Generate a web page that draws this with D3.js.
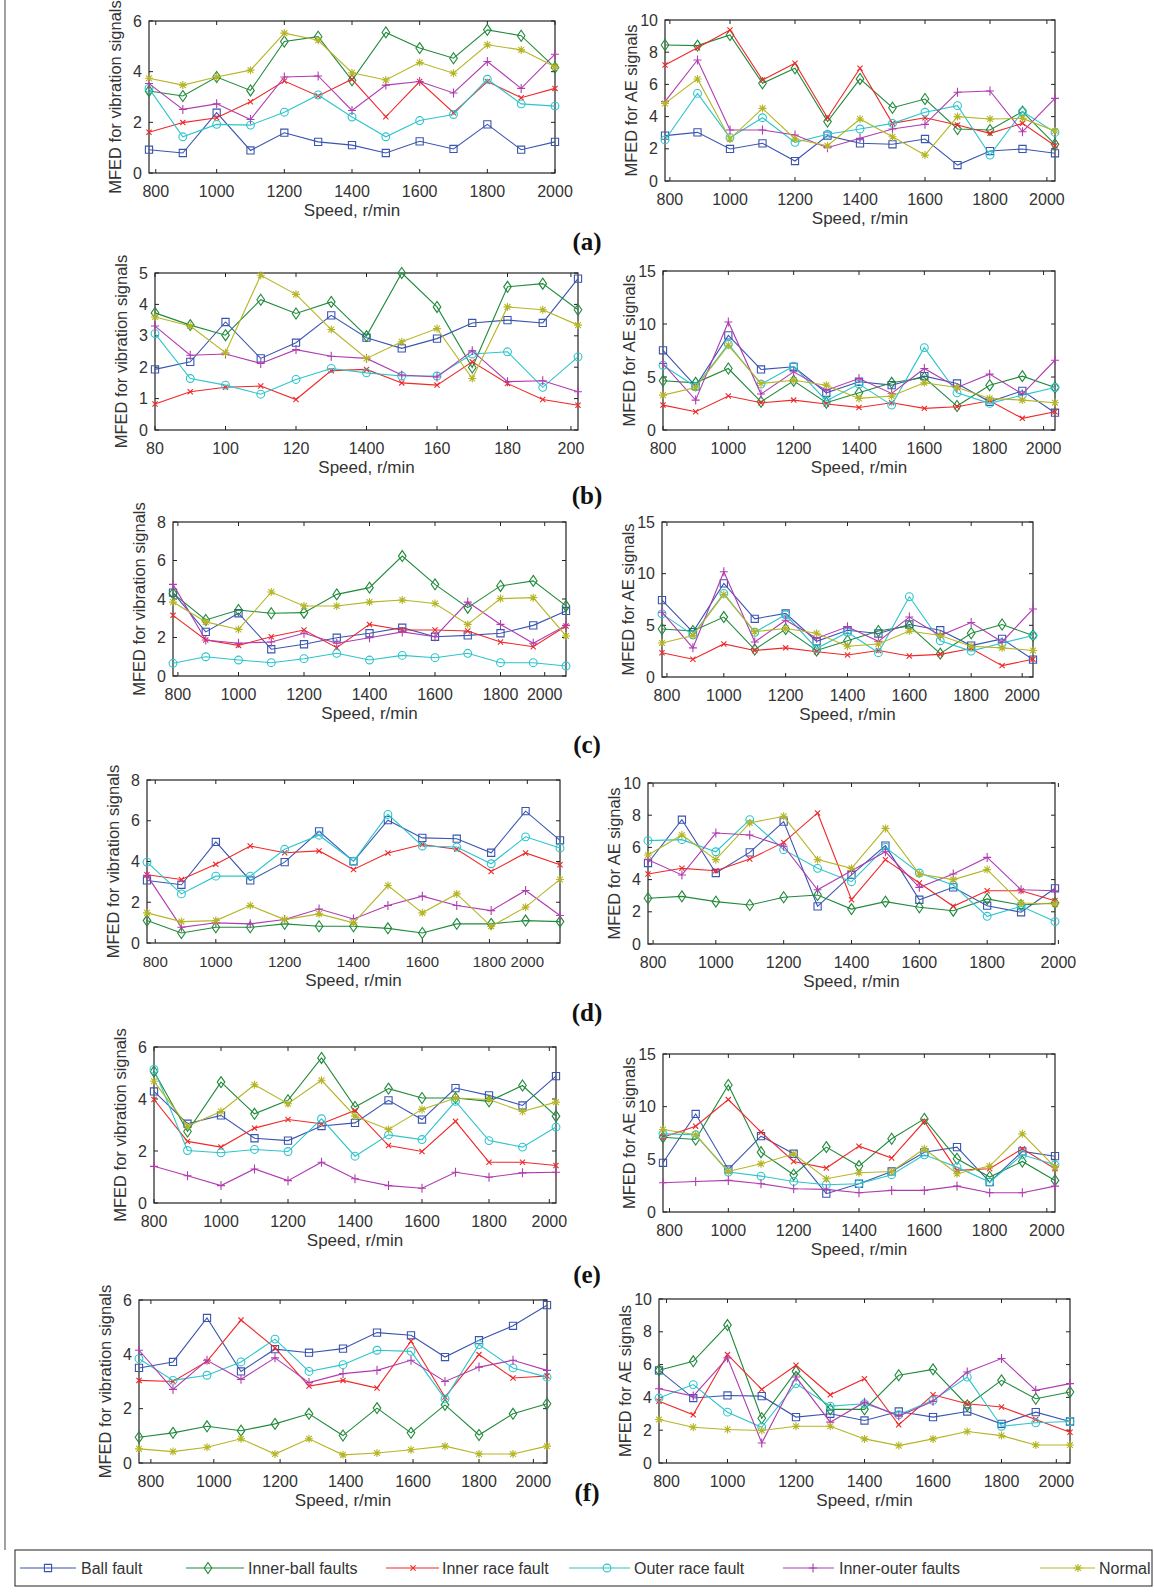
<!DOCTYPE html>
<html>
<head>
<meta charset="utf-8">
<script src="https://cdn.jsdelivr.net/npm/d3@7"></script>
<style>
body { margin: 0; background: #fff; }
text { font-family: "Liberation Sans", Arial, sans-serif; fill: #333; }
</style>
</head>
<body>
<svg id="fig" width="1154" height="1594"></svg>
<script>
// speeds (r/min) used on the x axis
const speeds = [800, 900, 1000, 1100, 1200, 1300, 1400, 1500, 1600, 1700, 1800, 1900, 2000]
const speedsB = [80, 90, 100, 110, 120, 130, 140, 150, 160, 170, 180, 190, 200]

const seriesNames = ["Ball fault", "Inner-ball faults", "Inner race fault", "Outer race fault", "Inner-outer faults", "Normal"]

// each panel: rows = ball, inner-ball, inner race, outer race, inner-outer, normal
const aVib = [
  [0.92, 0.79, 2.38, 0.89, 1.59, 1.23, 1.10, 0.79, 1.25, 0.95, 1.92, 0.92, 1.23],
  [3.24, 3.04, 3.79, 3.26, 5.19, 5.38, 3.66, 5.55, 4.93, 4.53, 5.65, 5.42, 4.16],
  [1.61, 1.99, 2.18, 2.81, 3.63, 3.04, 3.70, 2.22, 3.61, 2.38, 3.61, 2.97, 3.34],
  [3.34, 1.43, 1.92, 1.89, 2.40, 3.08, 2.21, 1.43, 2.07, 2.31, 3.70, 2.73, 2.64],
  [3.53, 2.51, 2.73, 2.11, 3.79, 3.83, 2.47, 3.47, 3.61, 3.16, 4.40, 3.34, 4.69],
  [3.74, 3.47, 3.79, 4.06, 5.52, 5.24, 3.96, 3.67, 4.36, 3.94, 5.06, 4.86, 4.19]
]
const aAE = [
  [2.82, 3.02, 1.99, 2.34, 1.24, 2.82, 2.34, 2.28, 2.61, 0.99, 1.86, 1.99, 1.72],
  [8.45, 8.41, 9.07, 6.07, 7.00, 3.69, 6.34, 4.55, 5.09, 3.23, 3.17, 4.31, 2.28],
  [7.20, 8.28, 9.38, 6.27, 7.31, 3.93, 7.00, 3.58, 3.93, 3.48, 2.96, 3.58, 2.19],
  [2.55, 5.44, 2.69, 3.93, 2.40, 2.90, 3.23, 3.58, 4.27, 4.68, 1.61, 4.31, 3.02],
  [4.93, 7.52, 3.17, 3.17, 2.86, 2.07, 2.65, 3.23, 3.52, 5.51, 5.59, 3.06, 5.13],
  [4.82, 6.34, 2.61, 4.51, 2.61, 2.19, 3.85, 2.75, 1.61, 4.00, 3.85, 3.89, 3.11]
]
const bVib = [
  [1.93, 2.17, 3.44, 2.28, 2.78, 3.65, 2.94, 2.60, 2.91, 3.41, 3.50, 3.41, 4.82],
  [3.73, 3.34, 3.02, 4.15, 3.71, 4.08, 2.99, 5.00, 3.92, 1.99, 4.56, 4.66, 3.83],
  [0.83, 1.22, 1.36, 1.40, 0.97, 1.89, 1.93, 1.50, 1.43, 2.17, 1.48, 0.97, 0.79],
  [3.07, 1.64, 1.43, 1.14, 1.61, 1.96, 1.82, 1.72, 1.72, 2.42, 2.49, 1.36, 2.33],
  [3.31, 2.38, 2.42, 2.12, 2.56, 2.35, 2.28, 1.75, 1.69, 2.52, 1.54, 1.57, 1.22],
  [3.60, 3.31, 2.46, 4.93, 4.32, 3.20, 2.28, 2.81, 3.23, 1.64, 3.92, 3.83, 3.34]
]
const bAE = [
  [7.52, 4.14, 8.93, 5.71, 5.96, 3.51, 4.55, 4.23, 5.08, 4.39, 2.66, 3.70, 1.63],
  [4.64, 4.45, 5.80, 2.66, 4.64, 2.57, 3.51, 4.45, 4.95, 2.26, 4.23, 5.08, 4.01],
  [2.35, 1.72, 3.20, 2.57, 2.82, 2.45, 2.13, 2.57, 2.04, 2.19, 2.76, 1.10, 1.72],
  [6.11, 4.08, 8.09, 4.33, 6.02, 2.76, 4.33, 2.35, 7.77, 3.51, 2.51, 3.29, 4.01],
  [6.27, 2.82, 10.19, 3.39, 5.49, 3.76, 4.86, 3.45, 5.80, 4.01, 5.27, 3.39, 6.58],
  [3.29, 4.01, 7.99, 4.39, 4.70, 4.23, 2.98, 3.20, 4.45, 4.01, 2.98, 2.82, 2.57]
]
const cVib = [
  [4.33, 2.29, 3.26, 1.39, 1.65, 1.99, 2.22, 2.51, 2.04, 2.11, 2.22, 2.63, 3.38],
  [4.29, 2.91, 3.43, 3.26, 3.29, 4.24, 4.59, 6.23, 4.76, 3.55, 4.68, 4.94, 3.64],
  [3.15, 1.87, 1.59, 2.04, 2.39, 1.47, 2.68, 2.39, 2.39, 2.34, 1.77, 1.52, 2.60],
  [0.66, 1.00, 0.83, 0.69, 0.90, 1.18, 0.83, 1.07, 0.95, 1.18, 0.69, 0.69, 0.52],
  [4.76, 1.87, 1.70, 1.77, 2.22, 1.70, 1.99, 2.29, 2.04, 3.84, 2.68, 1.70, 2.63],
  [3.84, 2.81, 2.42, 4.36, 3.64, 3.64, 3.84, 3.95, 3.77, 2.68, 4.02, 4.07, 2.08]
]
const cAE = [
  [7.44, 4.34, 9.06, 5.63, 6.15, 3.46, 4.53, 4.21, 5.08, 4.53, 3.04, 3.69, 1.68],
  [4.64, 4.45, 5.80, 2.66, 4.64, 2.57, 3.51, 4.45, 4.95, 2.26, 4.23, 5.08, 4.01],
  [2.35, 1.72, 3.20, 2.57, 2.82, 2.45, 2.13, 2.57, 2.04, 2.19, 2.76, 1.10, 1.72],
  [6.11, 4.08, 8.09, 4.33, 6.02, 2.76, 4.33, 2.35, 7.77, 3.51, 2.51, 3.29, 4.01],
  [6.27, 2.82, 10.19, 3.39, 5.49, 3.76, 4.86, 3.45, 5.80, 4.01, 5.27, 3.39, 6.58],
  [3.29, 4.01, 7.99, 4.39, 4.70, 4.23, 2.98, 3.20, 4.45, 4.01, 2.98, 2.82, 2.57]
]
const dVib = [
  [3.07, 2.86, 4.96, 3.07, 3.97, 5.48, 4.01, 6.03, 5.16, 5.12, 4.43, 6.47, 5.04],
  [1.10, 0.49, 0.77, 0.77, 0.94, 0.82, 0.82, 0.72, 0.49, 0.94, 0.94, 1.10, 1.05],
  [3.35, 3.12, 3.86, 4.76, 4.43, 4.52, 3.61, 4.42, 4.83, 4.60, 3.51, 4.42, 3.84],
  [3.97, 2.41, 3.28, 3.28, 4.60, 5.29, 4.01, 6.31, 4.76, 4.71, 3.89, 5.21, 4.66],
  [3.32, 0.77, 0.99, 0.94, 1.15, 1.67, 1.18, 1.84, 2.30, 1.84, 1.59, 2.58, 1.35],
  [1.48, 1.05, 1.10, 1.84, 1.15, 1.43, 0.99, 2.82, 1.48, 2.41, 0.82, 1.76, 3.12]
]
const dAE = [
  [5.03, 7.72, 4.41, 5.69, 7.60, 2.34, 4.29, 6.11, 2.75, 3.52, 2.38, 1.97, 3.46],
  [2.84, 2.96, 2.63, 2.42, 2.90, 3.04, 2.17, 2.63, 2.28, 2.07, 2.80, 2.42, 2.55],
  [4.35, 4.70, 4.55, 5.28, 6.31, 8.14, 2.75, 5.24, 3.79, 2.34, 3.31, 3.31, 2.69],
  [6.42, 6.48, 5.73, 7.72, 5.86, 4.70, 3.87, 6.00, 4.41, 3.66, 1.72, 2.34, 1.39],
  [5.24, 4.29, 6.89, 6.77, 6.07, 3.37, 4.55, 5.73, 3.52, 4.35, 5.38, 3.37, 3.31],
  [5.53, 6.77, 5.24, 7.52, 7.93, 5.24, 4.70, 7.18, 4.35, 4.00, 4.62, 2.55, 2.48]
]
const eVib = [
  [4.29, 3.05, 3.37, 2.49, 2.40, 2.96, 3.08, 3.95, 3.21, 4.42, 4.14, 3.75, 4.88],
  [5.06, 2.75, 4.65, 3.43, 3.95, 5.58, 3.69, 4.40, 4.04, 4.04, 3.91, 4.52, 3.34],
  [3.98, 2.37, 2.15, 2.88, 3.21, 3.05, 3.56, 2.21, 1.98, 3.14, 1.57, 1.57, 1.44],
  [5.14, 2.02, 1.93, 2.06, 1.98, 3.24, 1.80, 2.62, 2.44, 3.91, 2.40, 2.15, 2.92],
  [1.41, 1.05, 0.67, 1.31, 0.86, 1.57, 0.93, 0.67, 0.57, 1.18, 0.99, 1.16, 1.18],
  [4.68, 2.96, 3.52, 4.55, 3.82, 4.72, 3.34, 2.83, 3.60, 4.04, 3.98, 3.52, 3.88]
]
const eAE = [
  [4.67, 9.31, 4.04, 7.20, 5.53, 1.74, 2.68, 3.85, 5.68, 6.16, 2.84, 5.75, 5.30],
  [7.10, 6.88, 12.06, 5.68, 3.54, 6.16, 4.36, 6.95, 8.84, 5.05, 3.32, 4.80, 3.00],
  [7.10, 8.15, 10.67, 7.58, 4.80, 4.17, 6.25, 5.12, 8.59, 3.95, 4.10, 6.00, 4.10],
  [7.42, 7.33, 3.79, 3.41, 2.90, 2.59, 2.68, 3.54, 5.43, 4.26, 2.84, 5.43, 4.48],
  [2.78, 2.90, 3.00, 2.68, 2.21, 2.15, 1.83, 2.05, 2.05, 2.46, 1.83, 1.83, 2.46],
  [7.83, 7.33, 3.85, 4.58, 5.53, 3.16, 3.73, 3.85, 6.00, 3.63, 4.36, 7.42, 4.26]
]
const fVib = [
  [3.50, 3.72, 5.34, 3.37, 4.19, 4.06, 4.21, 4.80, 4.70, 3.90, 4.52, 5.05, 5.81],
  [0.95, 1.11, 1.35, 1.19, 1.44, 1.81, 1.01, 2.02, 1.11, 2.14, 1.03, 1.81, 2.18],
  [3.04, 3.00, 3.74, 5.26, 4.24, 2.83, 3.04, 2.76, 4.48, 2.43, 3.99, 3.13, 3.20],
  [3.84, 3.04, 3.23, 3.72, 4.56, 3.37, 3.62, 4.15, 4.11, 2.36, 4.36, 3.50, 3.16],
  [4.15, 2.71, 3.78, 3.08, 3.87, 2.96, 3.29, 3.41, 3.78, 3.00, 3.53, 3.78, 3.41],
  [0.52, 0.42, 0.58, 0.89, 0.33, 0.89, 0.30, 0.37, 0.49, 0.62, 0.33, 0.33, 0.62]
]
const fAE = [
  [5.65, 3.96, 4.12, 4.08, 2.80, 3.00, 2.59, 3.14, 2.80, 3.14, 2.39, 3.10, 2.53],
  [5.65, 6.20, 8.41, 2.73, 5.59, 3.27, 3.27, 5.35, 5.71, 3.51, 5.04, 3.92, 4.33],
  [3.76, 2.94, 6.61, 4.49, 5.96, 4.16, 5.14, 2.33, 4.16, 3.61, 3.41, 2.65, 1.88],
  [3.96, 4.78, 3.10, 2.18, 4.84, 3.47, 3.61, 2.94, 3.82, 5.24, 2.24, 2.45, 2.53],
  [4.53, 4.08, 6.41, 1.22, 5.24, 2.49, 3.71, 2.86, 3.76, 5.55, 6.37, 4.43, 4.84],
  [2.65, 2.18, 2.04, 1.98, 2.24, 2.24, 1.47, 1.06, 1.47, 1.92, 1.67, 1.10, 1.10]
]

// x tick labels
const speedLabels = ["800", "1000", "1200", "1400", "1600", "1800", "2000"]
const speedLabelsB = ["80", "100", "120", "1400", "160", "180", "200"]

const colors = ["#3a55b0", "#1f8a3a", "#f02828", "#2cc5cc", "#b03cb0", "#b5b525"]
const markers = ["square", "diamond", "cross", "circle", "plus", "star"]

const vibLabel = "MFED for vibration signals"
const aeLabel = "MFED for AE signals"

// panel frames and tick spots (tick spots in r/min, as they sit in the figure)
const panels = [
  {data: aVib, xs: speeds, xd: [800, 2000], box: [149, 21, 555, 173], ymax: 6, ystep: 2, tp: [820, 1000, 1200, 1400, 1600, 1800, 2000], tl: speedLabels, yl: vibLabel},
  {data: aAE, xs: speeds, xd: [800, 2000], box: [665, 20, 1055, 181], ymax: 10, ystep: 2, tp: [815, 1000, 1200, 1400, 1600, 1800, 1975], tl: speedLabels, yl: aeLabel},
  {data: bVib, xs: speedsB, xd: [80, 200], box: [155, 273, 578, 430], ymax: 5, ystep: 1, tp: [80, 100, 120, 140, 160, 180, 198], tl: speedLabelsB, yl: vibLabel},
  {data: bAE, xs: speeds, xd: [800, 2000], box: [663, 271, 1055, 430], ymax: 15, ystep: 5, tp: [800, 1000, 1200, 1400, 1600, 1800, 1965], tl: speedLabels, yl: aeLabel},
  {data: cVib, xs: speeds, xd: [800, 2000], box: [173, 522, 566, 676], ymax: 8, ystep: 2, tp: [815, 1000, 1200, 1400, 1600, 1800, 1935], tl: speedLabels, yl: vibLabel},
  {data: cAE, xs: speeds, xd: [800, 2000], box: [662, 522, 1033, 677], ymax: 15, ystep: 5, tp: [816, 1000, 1200, 1400, 1600, 1800, 1965], tl: speedLabels, yl: aeLabel},
  {data: dVib, xs: speeds, xd: [800, 2000], box: [147, 780, 560, 943], ymax: 8, ystep: 2, tp: [824, 1000, 1200, 1400, 1600, 1795, 1905], tl: speedLabels, yl: vibLabel, fs: 15},
  {data: dAE, xs: speeds, xd: [800, 2000], box: [648, 783, 1055, 944], ymax: 10, ystep: 2, tp: [815, 1000, 1200, 1400, 1600, 1800, 2010], tl: speedLabels, yl: aeLabel},
  {data: eVib, xs: speeds, xd: [800, 2000], box: [154, 1047, 556, 1203], ymax: 6, ystep: 2, tp: [800, 1000, 1200, 1400, 1600, 1800, 1980], tl: speedLabels, yl: vibLabel},
  {data: eAE, xs: speeds, xd: [800, 2000], box: [663, 1054, 1055, 1212], ymax: 15, ystep: 5, tp: [820, 1000, 1200, 1400, 1600, 1800, 1975], tl: speedLabels, yl: aeLabel},
  {data: fVib, xs: speeds, xd: [800, 2000], box: [139, 1300, 547, 1463], ymax: 6, ystep: 2, tp: [835, 1020, 1215, 1408, 1606, 1800, 1960], tl: speedLabels, yl: vibLabel},
  {data: fAE, xs: speeds, xd: [800, 2000], box: [659, 1299, 1070, 1463], ymax: 10, ystep: 2, tp: [822, 1000, 1200, 1400, 1600, 1800, 1960], tl: speedLabels, yl: aeLabel}
]

const panelTags = ["(a)", "(b)", "(c)", "(d)", "(e)", "(f)"]
const tagY = [241, 495, 744, 1012, 1274, 1492]

const svg = d3.select("#fig")

//marker path around x,y
function markerPath(type, x, y) {
  if (type == "square") return `M${x-3.6},${y-3.6}h7.2v7.2h-7.2Z`
  if (type == "diamond") return `M${x},${y-5.5}L${x+3.8},${y}L${x},${y+5.5}L${x-3.8},${y}Z`
  if (type == "cross") return `M${x-2.6},${y-2.6}L${x+2.6},${y+2.6}M${x-2.6},${y+2.6}L${x+2.6},${y-2.6}`
  if (type == "plus") return `M${x-4},${y}H${x+4}M${x},${y-4.5}V${y+4.5}`
  if (type == "star") return `M${x-4},${y}H${x+4}M${x},${y-4}V${y+4}M${x-2.9},${y-2.9}L${x+2.9},${y+2.9}M${x-2.9},${y+2.9}L${x+2.9},${y-2.9}`
  return null
}

function drawMarker(g, type, x, y, color) {
  if (type == "circle") {
    g.append("circle").attr("cx", x).attr("cy", y).attr("r", 3.9)
      .attr("fill", "none").attr("stroke", color).attr("stroke-width", 1.1)
  } else {
    g.append("path").attr("d", markerPath(type, x, y))
      .attr("fill", "none").attr("stroke", color).attr("stroke-width", 1.1)
  }
}

function drawPanel(p) {
  let [x0, y0, x1, y1] = p.box
  let fs = p.fs || 16
  let xScale = d3.scaleLinear().domain(p.xd).range([x0, x1])
  let yScale = d3.scaleLinear().domain([0, p.ymax]).range([y1, y0])
  let g = svg.append("g")

  //frame
  g.append("rect").attr("x", x0).attr("y", y0).attr("width", x1 - x0).attr("height", y1 - y0)
    .attr("fill", "none").attr("stroke", "#222").attr("stroke-width", 1.2)

  //y ticks (box on, ticks inward both sides)
  let yt = d3.range(0, p.ymax + 0.001, p.ystep)
  yt.forEach(v => {
    let y = yScale(v)
    g.append("line").attr("x1", x0).attr("x2", x0 + 4).attr("y1", y).attr("y2", y).attr("stroke", "#222")
    g.append("line").attr("x1", x1).attr("x2", x1 - 4).attr("y1", y).attr("y2", y).attr("stroke", "#222")
    g.append("text").attr("x", x0 - 7).attr("y", y + 5.5).attr("text-anchor", "end")
      .style("font-size", "16px").text(v)
  })

  //x ticks
  p.tp.forEach((v, i) => {
    let x = xScale(v)
    g.append("line").attr("x1", x).attr("x2", x).attr("y1", y1).attr("y2", y1 - 4).attr("stroke", "#222")
    g.append("line").attr("x1", x).attr("x2", x).attr("y1", y0).attr("y2", y0 + 4).attr("stroke", "#222")
    g.append("text").attr("x", x).attr("y", y1 + 24).attr("text-anchor", "middle")
      .style("font-size", fs + "px").text(p.tl[i])
  })

  //axis titles
  g.append("text").attr("x", (x0 + x1) / 2).attr("y", y1 + 43).attr("text-anchor", "middle")
    .style("font-size", "17px").text("Speed, r/min")
  g.append("text").attr("transform", `translate(${x0 - 28},${(y0 + y1) / 2}) rotate(-90)`)
    .attr("text-anchor", "middle").style("font-size", "16.5px").text(p.yl)

  //series
  let line = d3.line().x((d, i) => xScale(p.xs[i])).y(d => yScale(d))
  p.data.forEach((s, k) => {
    g.append("path").attr("d", line(s)).attr("fill", "none")
      .attr("stroke", colors[k]).attr("stroke-width", 1.1)
    s.forEach((v, i) => drawMarker(g, markers[k], xScale(p.xs[i]), yScale(v), colors[k]))
  })
}

panels.forEach(drawPanel)

//sub-figure tags
panelTags.forEach((t, i) => {
  svg.append("text").attr("x", 587).attr("y", tagY[i] + 9).attr("text-anchor", "middle")
    .style("font-family", "'Liberation Serif', 'Times New Roman', serif")
    .style("font-weight", "bold").style("font-size", "25px").style("fill", "#111").text(t)
})

//legend
const legendLine = [[20, 76], [186, 244], [386, 439], [569, 630], [783, 834], [1040, 1095]]
const legendMark = [48, 208, 413, 607, 813, 1078]
const legendText = [81, 248, 442, 634, 839, 1099]
let ly = 1568
svg.append("rect").attr("x", 15).attr("y", 1550).attr("width", 1137).attr("height", 36)
  .attr("fill", "#fff").attr("stroke", "#222").attr("stroke-width", 1)
seriesNames.forEach((n, k) => {
  svg.append("line").attr("x1", legendLine[k][0]).attr("x2", legendLine[k][1]).attr("y1", ly).attr("y2", ly)
    .attr("stroke", colors[k]).attr("stroke-width", 1.1)
  drawMarker(svg, markers[k], legendMark[k], ly, colors[k])
  svg.append("text").attr("x", legendText[k]).attr("y", ly + 6).style("font-size", "16px").text(n)
})

//outer border of the figure
svg.append("line").attr("x1", 5).attr("x2", 5).attr("y1", 0).attr("y2", 1550).attr("stroke", "#444")
</script>
</body>
</html>
